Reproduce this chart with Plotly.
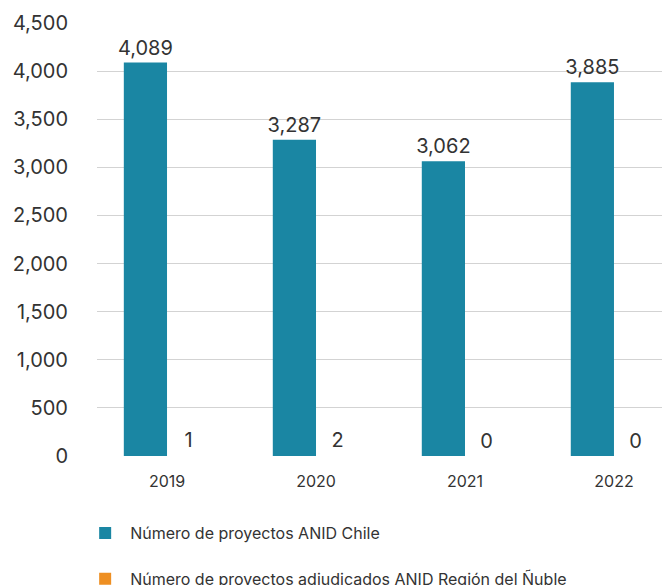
import plotly.graph_objects as go

years = ["2019", "2020", "2021", "2022"]
chile = [4089, 3287, 3062, 3885]
nuble = [1, 2, 0, 0]
y_ticks = [0, 500, 1000, 1500, 2000, 2500, 3000, 3500, 4000, 4500]
y_labels = [f"{v:,}" for v in y_ticks]

FONT = "Inter, Noto Sans, sans-serif"
TXT = "#333333"
BLUE = "#1a86a3"
ORANGE = "#ee8f22"

fig = go.Figure()
fig.add_trace(go.Bar(
    x=years, y=chile, name="Número de proyectos ANID Chile",
    marker=dict(color=BLUE, line=dict(width=0)),
    text=[f"{v:,}" for v in chile], textposition="outside", constraintext="none",
    textfont=dict(size=20, color=TXT, family=FONT), cliponaxis=False,
    legendgroup="a",
))
# Ñuble bars: values too small to be visible at this scale -> bars hidden via unselected style
fig.add_trace(go.Bar(
    x=years, y=nuble, name="Número de proyectos adjudicados ANID Región del Ñuble",
    marker=dict(color=ORANGE, line=dict(width=0)),
    text=[f"{v:,}" for v in nuble], textposition="outside", constraintext="none",
    textfont=dict(size=20, color=TXT, family=FONT), cliponaxis=False,
    selectedpoints=[],
    unselected=dict(marker=dict(opacity=0), textfont=dict(color=TXT)),
    legendgroup="b",
))

fig.update_layout(
    width=662, height=577,
    margin=dict(l=89, r=0, t=15, b=129, autoexpand=False),
    plot_bgcolor="white", paper_bgcolor="white",
    barmode="group", bargap=0.42, bargroupgap=0,
    font=dict(family=FONT, color=TXT),
    showlegend=True,
    legend=dict(orientation="v", xref="container", yref="container",
                x=0.109, xanchor="left", y=0.1196, yanchor="top",
                font=dict(size=16, color=TXT, family=FONT), tracegroupgap=22,
                itemwidth=40),
    xaxis=dict(range=[-0.47, 3.376], showgrid=False, showline=False, zeroline=False,
               tickfont=dict(size=16, color=TXT), ticks="", ticklabelstandoff=14,
               automargin=False),
    yaxis=dict(range=[0, 4500], tickvals=y_ticks, ticktext=y_labels,
               showgrid=True, gridcolor="#d3d3d3", gridwidth=1,
               zeroline=False, showline=False, ticks="",
               tickfont=dict(size=20, color=TXT), ticklabelstandoff=28,
               automargin=False),
)

fig.write_html("out.html")
